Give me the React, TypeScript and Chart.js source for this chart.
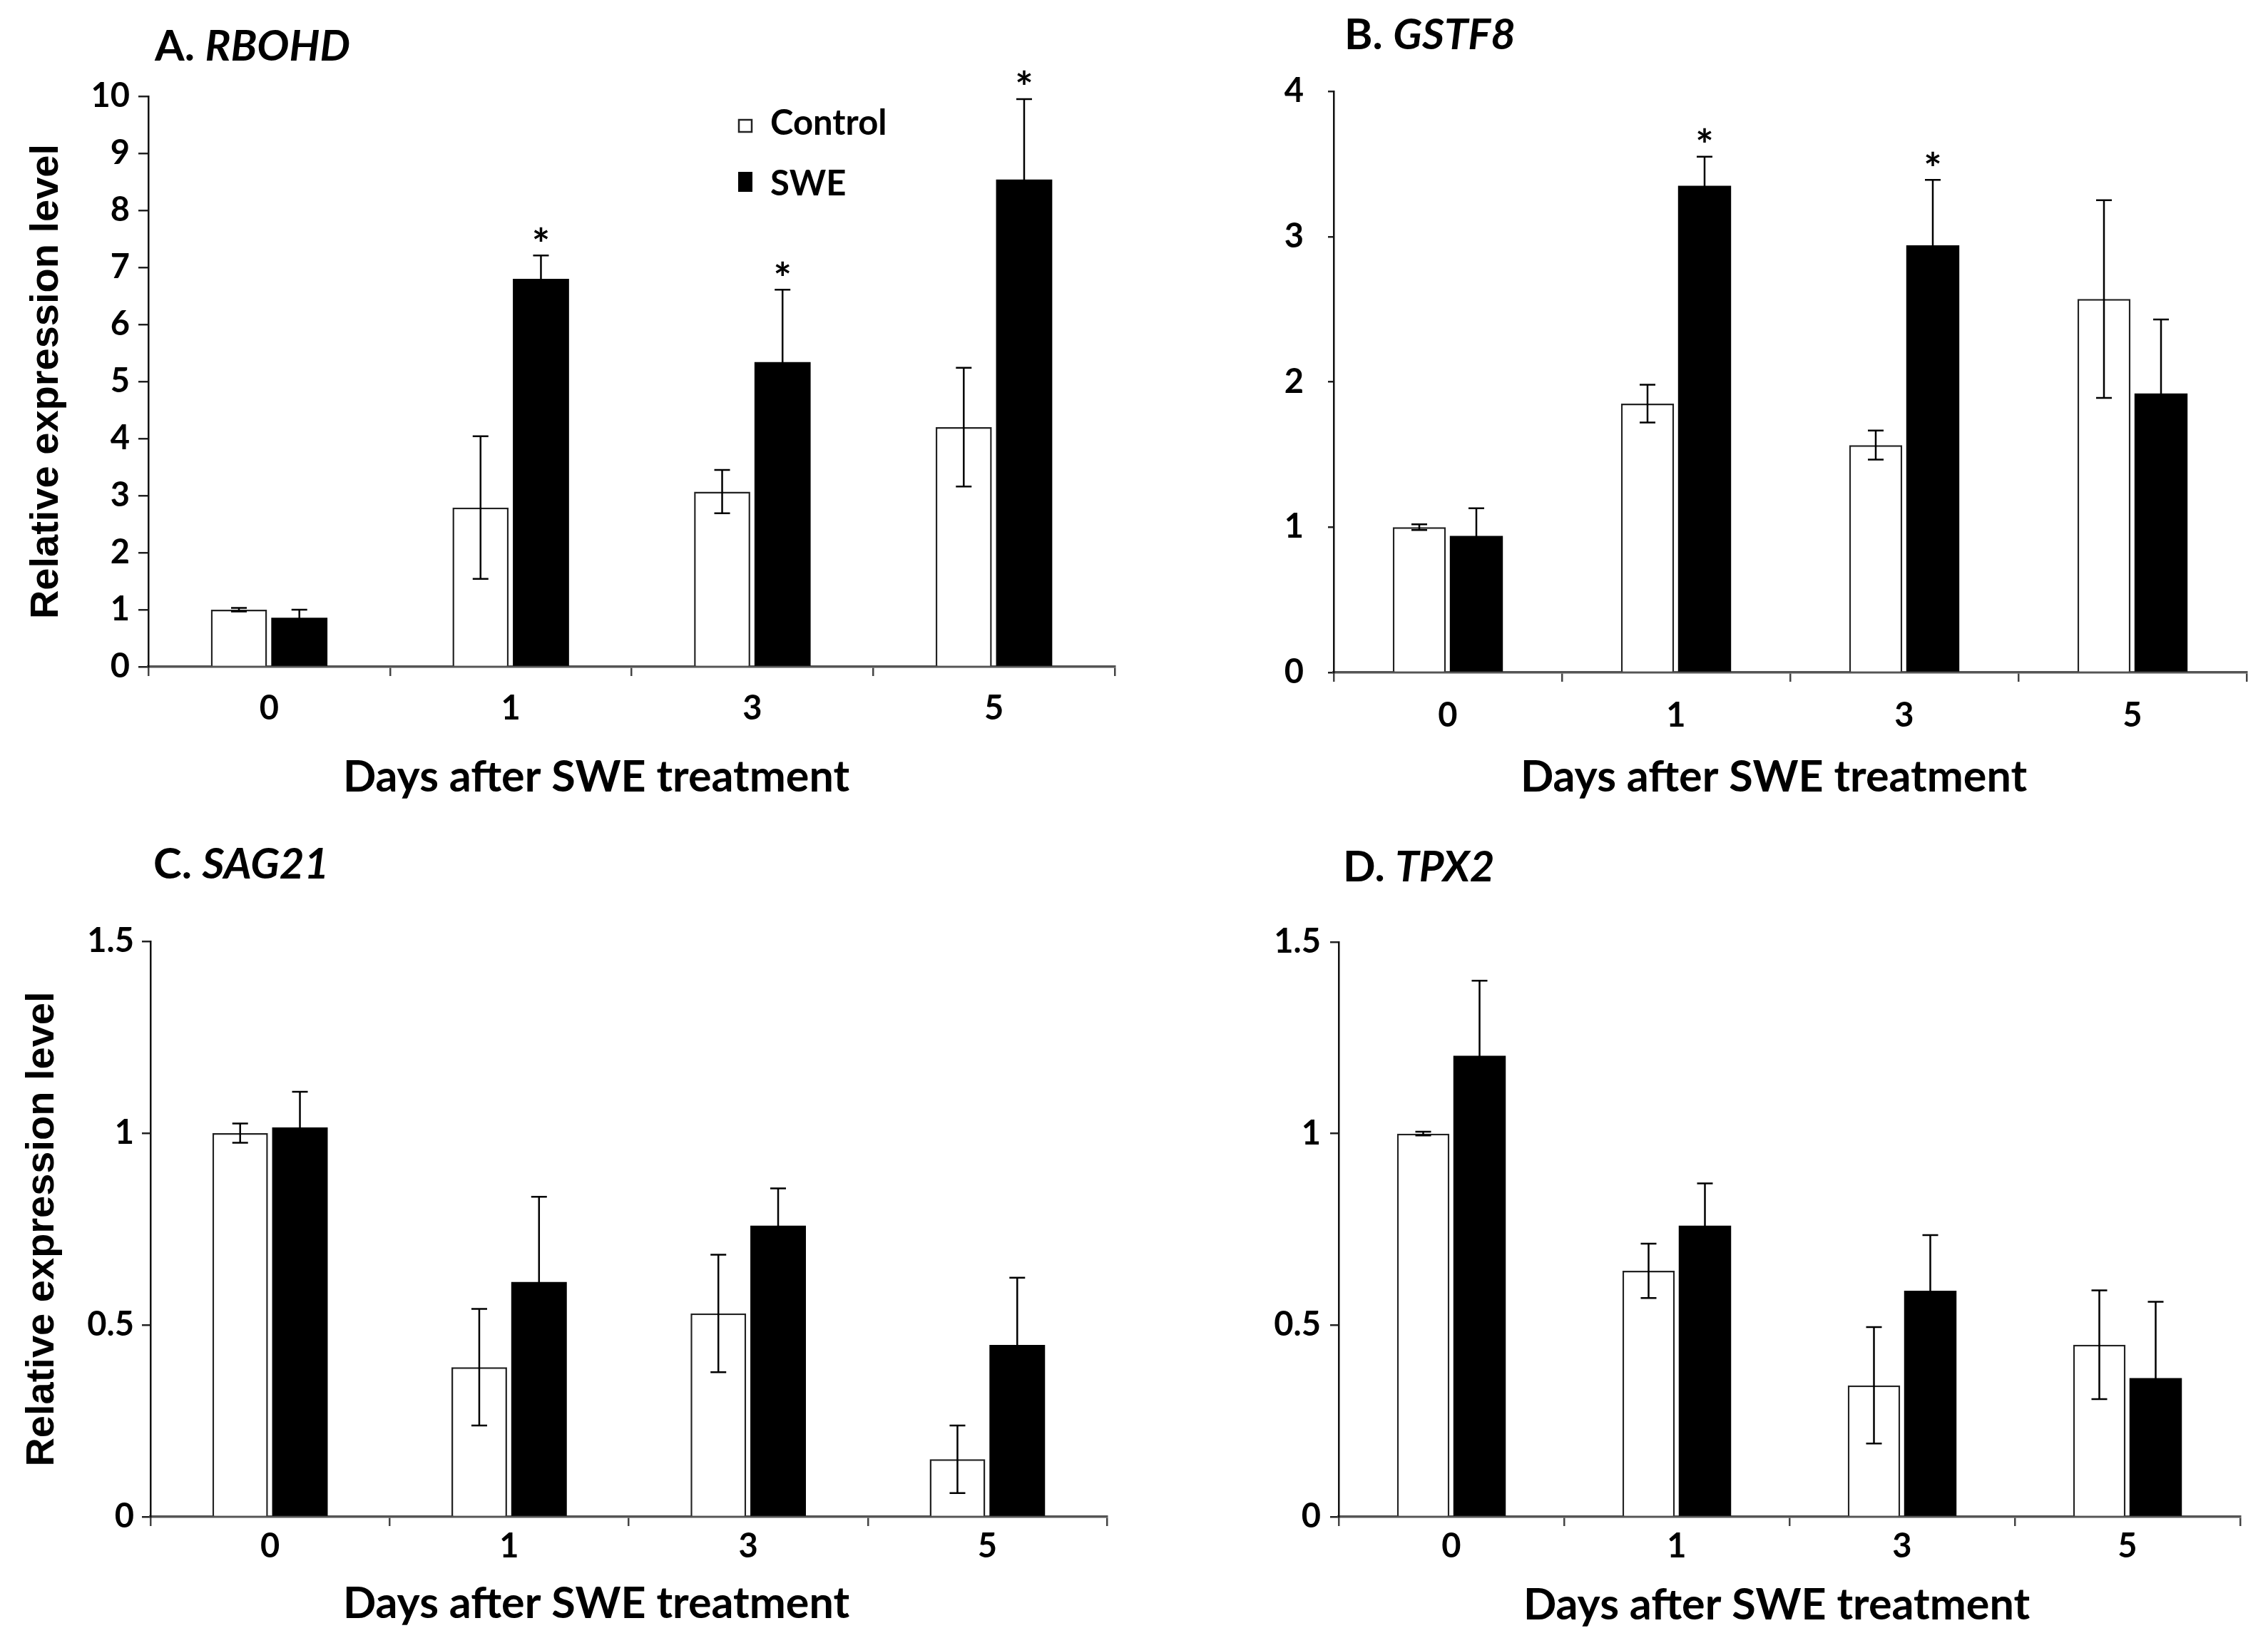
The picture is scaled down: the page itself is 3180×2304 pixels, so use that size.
import React, { useEffect, useRef } from 'react';
import { Chart, registerables } from 'chart.js';

Chart.register(...registerables);

// ---------- data ----------
const days = ['0', '1', '3', '5'];
const seriesNames = ['Control', 'SWE'];
const xAxisTitle = 'Days after SWE treatment';
const yAxisTitle = 'Relative expression level';

const rbohdControl = [1.0, 2.79, 3.07, 4.2];
const rbohdControlErr = [0.03, 1.25, 0.38, 1.04];
const rbohdSwe = [0.86, 6.8, 5.34, 8.54];
const rbohdSweErr = [0.14, 0.41, 1.27, 1.41];
const rbohdSweSig = [false, true, true, true];
const rbohdYTicks = [0, 1, 2, 3, 4, 5, 6, 7, 8, 9, 10];

const gstf8Control = [1.0, 1.85, 1.565, 2.57];
const gstf8ControlErr = [0.02, 0.13, 0.1, 0.68];
const gstf8Swe = [0.94, 3.35, 2.94, 1.92];
const gstf8SweErr = [0.19, 0.2, 0.45, 0.51];
const gstf8SweSig = [false, true, true, false];
const gstf8YTicks = [0, 1, 2, 3, 4];

const sag21Control = [1.0, 0.39, 0.53, 0.15];
const sag21ControlErr = [0.025, 0.152, 0.153, 0.088];
const sag21Swe = [1.015, 0.612, 0.759, 0.448];
const sag21SweErr = [0.093, 0.222, 0.097, 0.175];
const sag21SweSig = [false, false, false, false];
const sag21YTicks = [0, 0.5, 1, 1.5];

const tpx2Control = [1.0, 0.642, 0.343, 0.449];
const tpx2ControlErr = [0.005, 0.071, 0.152, 0.142];
const tpx2Swe = [1.203, 0.76, 0.59, 0.362];
const tpx2SweErr = [0.196, 0.11, 0.145, 0.199];
const tpx2SweSig = [false, false, false, false];
const tpx2YTicks = [0, 0.5, 1, 1.5];

// ---------- layout / style ----------
const FONT = 'Lato';
const W = 1590;
const H = 1152;

type PanelCfg = {
  letter: string;
  gene: string;
  control: number[];
  controlErr: number[];
  swe: number[];
  sweErr: number[];
  sweSig: boolean[];
  yTicks: number[];
  ox: number;
  oy: number;
  top: number;
  padRight: number;
  yWidth: number;
  xHeight: number;
  xTickPad: number;
  yTickLen: number;
  yTickPad: number;
  yTitle: boolean;
  yTitlePad: number;
  titleX: number;
  titleBase: number;
  xTitleX: number;
  xTitleBase: number;
  legend: boolean;
};

const panels: PanelCfg[] = [
  {
    letter: 'A. ', gene: 'RBOHD',
    control: rbohdControl, controlErr: rbohdControlErr, swe: rbohdSwe, sweErr: rbohdSweErr, sweSig: rbohdSweSig, yTicks: rbohdYTicks,
    ox: 0, oy: 0, top: 135, padRight: 27, yWidth: 208, xHeight: 217, xTickPad: 22, yTickLen: 14, yTickPad: 12,
    yTitle: true, yTitlePad: 38, titleX: 217, titleBase: 85, xTitleX: 836, xTitleBase: 1110, legend: true,
  },
  {
    letter: 'B. ', gene: 'GSTF8',
    control: gstf8Control, controlErr: gstf8ControlErr, swe: gstf8Swe, sweErr: gstf8SweErr, sweSig: gstf8SweSig, yTicks: gstf8YTicks,
    ox: 1590, oy: 0, top: 128, padRight: 30, yWidth: 280, xHeight: 209, xTickPad: 24, yTickLen: 8, yTickPad: 34,
    yTitle: false, yTitlePad: 0, titleX: 295, titleBase: 69, xTitleX: 897, xTitleBase: 1110, legend: false,
  },
  {
    letter: 'C. ', gene: 'SAG21',
    control: sag21Control, controlErr: sag21ControlErr, swe: sag21Swe, sweErr: sag21SweErr, sweSig: sag21SweSig, yTicks: sag21YTicks,
    ox: 0, oy: 1152, top: 168, padRight: 38, yWidth: 211, xHeight: 177, xTickPad: 5, yTickLen: 12, yTickPad: 11,
    yTitle: true, yTitlePad: 32, titleX: 215, titleBase: 80, xTitleX: 836, xTitleBase: 1117, legend: false,
  },
  {
    letter: 'D. ', gene: 'TPX2',
    control: tpx2Control, controlErr: tpx2ControlErr, swe: tpx2Swe, sweErr: tpx2SweErr, sweSig: tpx2SweSig, yTicks: tpx2YTicks,
    ox: 1590, oy: 1152, top: 169, padRight: 39, yWidth: 287, xHeight: 177, xTickPad: 5, yTickLen: 12, yTickPad: 13,
    yTitle: false, yTitlePad: 0, titleX: 293, titleBase: 84, xTitleX: 901, xTitleBase: 1119, legend: false,
  },
];

function makeOverlay(cfg: PanelCfg) {
  return {
    id: 'panelOverlay',
    afterDatasetsDraw(chart: any) {
      const ctx: CanvasRenderingContext2D = chart.ctx;
      const y = chart.scales.y;
      const errs = [cfg.controlErr, cfg.sweErr];
      const sig = [null, cfg.sweSig];
      ctx.save();
      ctx.strokeStyle = '#000';
      ctx.lineWidth = 2.5;
      ctx.fillStyle = '#000';
      errs.forEach((errArr, i) => {
        const meta = chart.getDatasetMeta(i);
        const vals = chart.data.datasets[i].data as number[];
        meta.data.forEach((bar: any, j: number) => {
          const v = vals[j];
          const e = errArr[j];
          const x = bar.x;
          const yt = y.getPixelForValue(v + e);
          const yb = y.getPixelForValue(Math.max(0, v - e));
          const cap = 11;
          ctx.beginPath();
          ctx.moveTo(x, yt);
          ctx.lineTo(x, yb);
          ctx.moveTo(x - cap, yt);
          ctx.lineTo(x + cap, yt);
          ctx.moveTo(x - cap, yb);
          ctx.lineTo(x + cap, yb);
          ctx.stroke();
          const s = sig[i];
          if (s && s[j]) {
            ctx.font = `bold 60px ${FONT}`;
            ctx.textAlign = 'center';
            ctx.textBaseline = 'middle';
            ctx.fillText('*', x, yt - 14);
          }
        });
      });
      ctx.restore();
    },
    afterDraw(chart: any) {
      const ctx: CanvasRenderingContext2D = chart.ctx;
      ctx.save();
      ctx.fillStyle = '#000';
      ctx.textBaseline = 'alphabetic';
      // panel title
      ctx.textAlign = 'left';
      ctx.font = `bold 60px ${FONT}`;
      ctx.fillText(cfg.letter, cfg.titleX, cfg.titleBase);
      const w = ctx.measureText(cfg.letter).width;
      ctx.font = `italic bold 60px ${FONT}`;
      ctx.fillText(cfg.gene, cfg.titleX + w, cfg.titleBase);
      // x axis title
      ctx.textAlign = 'center';
      ctx.font = `bold 61px ${FONT}`;
      ctx.fillText(xAxisTitle, cfg.xTitleX, cfg.xTitleBase);
      // legend
      if (cfg.legend) {
        const ds = chart.data.datasets;
        ctx.textAlign = 'left';
        ctx.font = `bold 49px ${FONT}`;
        ctx.lineWidth = 2.5;
        ctx.strokeStyle = '#222';
        ctx.fillStyle = '#fff';
        ctx.fillRect(1035, 167, 20, 19);
        ctx.strokeRect(1036, 168, 18, 17);
        ctx.fillStyle = '#000';
        ctx.fillText(ds[0].label, 1080, 189);
        ctx.fillRect(1035, 241, 20, 28);
        ctx.fillText(ds[1].label, 1080, 274);
      }
      ctx.restore();
    },
  };
}

function Panel({ cfg }: { cfg: PanelCfg }) {
  const ref = useRef<HTMLCanvasElement>(null);
  useEffect(() => {
    const canvas = ref.current!;
    const tickFont = { family: FONT, weight: 'bold' as const, size: 47, lineHeight: 1 };
    const chart = new Chart(canvas, {
      type: 'bar',
      data: {
        labels: days,
        datasets: [
          {
            label: seriesNames[0],
            data: cfg.control,
            backgroundColor: '#ffffff',
            borderColor: '#222222',
            borderWidth: 2.5,
            categoryPercentage: 0.5,
            barPercentage: 0.93,
          },
          {
            label: seriesNames[1],
            data: cfg.swe,
            backgroundColor: '#000000',
            borderColor: '#000000',
            borderWidth: 0,
            categoryPercentage: 0.5,
            barPercentage: 0.93,
          },
        ],
      },
      options: {
        responsive: false,
        animation: false,
        devicePixelRatio: 1,
        layout: { padding: { left: 0, top: cfg.top, right: cfg.padRight, bottom: 0 } },
        plugins: {
          legend: { display: false },
          tooltip: { enabled: false },
          title: { display: false },
        },
        scales: {
          x: {
            offset: true,
            grid: {
              display: true,
              offset: true,
              drawOnChartArea: false,
              drawTicks: true,
              tickLength: 13,
              color: '#444',
              lineWidth: 2.5,
            },
            border: { display: true, color: '#555', width: 3.5 },
            ticks: { font: tickFont, color: '#000', padding: cfg.xTickPad, maxRotation: 0 },
            afterFit: (s: any) => {
              s.height = cfg.xHeight;
            },
          },
          y: {
            min: cfg.yTicks[0],
            max: cfg.yTicks[cfg.yTicks.length - 1],
            grid: {
              display: true,
              drawOnChartArea: false,
              drawTicks: true,
              tickLength: cfg.yTickLen,
              color: '#222',
              lineWidth: 2.5,
            },
            border: { display: true, color: '#111', width: 2.5 },
            ticks: {
              font: tickFont,
              color: '#000',
              padding: cfg.yTickPad,
              callback: (v: any) => String(v),
            },
            afterBuildTicks: (s: any) => {
              s.ticks = cfg.yTicks.map((v) => ({ value: v }));
            },
            afterFit: (s: any) => {
              s.width = cfg.yWidth;
            },
            title: {
              display: cfg.yTitle,
              text: yAxisTitle,
              color: '#000',
              font: { family: 'Liberation Sans', weight: 'bold', size: 56, lineHeight: 1 },
              padding: { top: cfg.yTitlePad, bottom: 0 },
            },
          },
        },
      },
      plugins: [makeOverlay(cfg)],
    });
    return () => chart.destroy();
  }, [cfg]);
  return (
    <canvas
      ref={ref}
      width={W}
      height={H}
      style={{ position: 'absolute', left: cfg.ox, top: cfg.oy, width: W, height: H }}
    />
  );
}

export default function App() {
  return (
    <div style={{ position: 'absolute', left: 0, top: 0, width: 3180, height: 2304, background: '#fff', overflow: 'hidden' }}>
      {panels.map((p) => (
        <Panel key={p.gene} cfg={p} />
      ))}
    </div>
  );
}
